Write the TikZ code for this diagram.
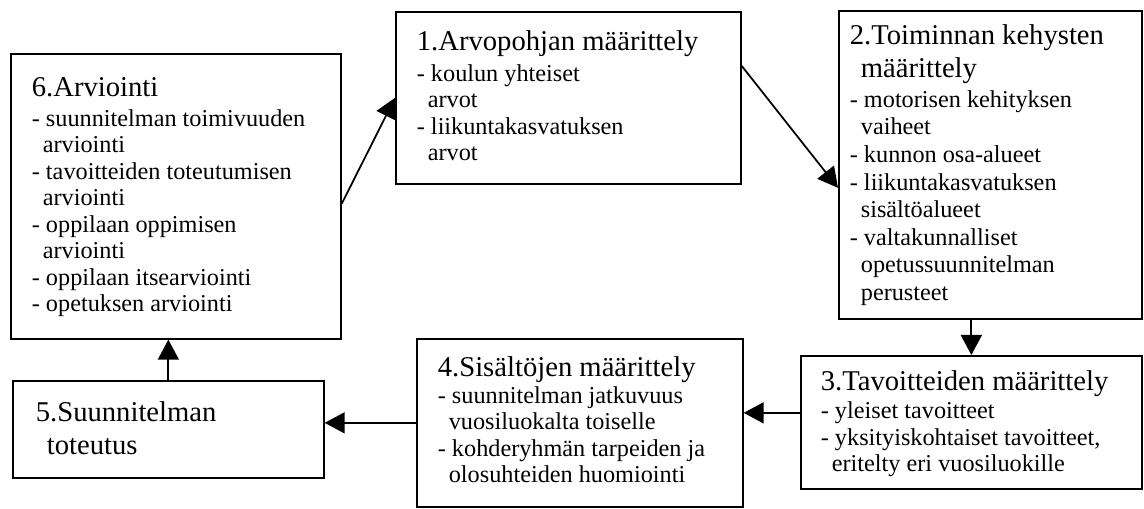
\documentclass[tikz,border=0pt]{standalone}
\usepackage{fontspec}
\setmainfont{Liberation Serif}
\usetikzlibrary{arrows.meta}

\newcommand{\otsikko}[2][1pt]{{\fontsize{16.3}{18.7}\selectfont #2\par}\vspace{#1}}
\newcommand{\sis}{\hspace*{2.2mm}}

\begin{document}
\begin{tikzpicture}[x=0.02cm, y=-0.02cm,
    vaihe/.style={draw, line width=1pt, anchor=north west, inner xsep=0.42cm, inner ysep=0.1cm,
        font=\fontsize{13.8}{15.1}\selectfont},
    nuoli/.style={line width=1pt, -{Triangle[length=0.4cm, width=0.42cm]}}]
\useasboundingbox (0,0) rectangle (1144,509);

% 6. Arviointi
\node[vaihe] (arviointi) at (10,53) {
    \begin{minipage}[c][5.5cm][t]{5.76cm}
        \vspace*{0.37cm}
        \otsikko[1.9pt]{6.Arviointi}
        - suunnitelman toimivuuden\\
        \sis arviointi\\
        - tavoitteiden toteutumisen\\
        \sis arviointi\\
        - oppilaan oppimisen\\
        \sis arviointi\\
        - oppilaan itsearviointi\\
        - opetuksen arviointi
    \end{minipage}
};

% 1. Arvopohja
\node[vaihe] (arvopohja) at (395,11) {
    \begin{minipage}[c][3.24cm][t]{6.06cm}
        \vspace*{0.28cm}
        \otsikko[2.2pt]{1.Arvopohjan määrittely}
        - koulun yhteiset\\
        \sis arvot\\
        - liikuntakasvatuksen\\
        \sis arvot
    \end{minipage}
};

% 2. Toiminnan kehykset
\node[vaihe, inner xsep=0.22cm, font=\fontsize{13.8}{15.7}\selectfont] (kehykset) at (838,10) {
    \begin{minipage}[c][5.96cm][t]{5.62cm}
        \vspace*{0.18cm}
        \otsikko[1.2pt]{2.Toiminnan kehysten\\\sis määrittely}
        - motorisen kehityksen\\
        \sis vaiheet\\
        - kunnon osa-alueet\\
        - liikuntakasvatuksen\\
        \sis sisältöalueet\\
        - valtakunnalliset\\
        \sis opetussuunnitelman\\
        \sis perusteet
    \end{minipage}
};

% 3. Tavoitteet
\node[vaihe, inner xsep=0.4cm] (tavoitteet) at (800,355) {
    \begin{minipage}[c][2.46cm][t]{6.02cm}
        \vspace*{0.2cm}
        \otsikko[0.8pt]{3.Tavoitteiden määrittely}
        - yleiset tavoitteet\\
        - yksityiskohtaiset tavoitteet,\\
        \sis eritelty eri vuosiluokille
    \end{minipage}
};

% 4. Sisällöt
\node[vaihe] (sisallot) at (416,338) {
    \begin{minipage}[c][3.16cm][t]{5.68cm}
        \vspace*{0.26cm}
        \otsikko[0pt]{4.Sisältöjen määrittely}
        - suunnitelman jatkuvuus\\
        \sis vuosiluokalta toiselle\\
        - kohderyhmän tarpeiden ja\\
        \sis olosuhteiden huomiointi
    \end{minipage}
};

% 5. Toteutus
\node[vaihe, inner xsep=0.46cm] (toteutus) at (12,380) {
    \begin{minipage}[c][1.74cm][t]{5.3cm}
        \vspace*{0.32cm}
        \otsikko[0pt]{5.Suunnitelman\\\sis toteutus}
    \end{minipage}
};

% Kierto
\draw[nuoli] ([yshift=-0.15cm]arviointi.east) -- (arvopohja.west);
\draw[nuoli] ([yshift=0.64cm]arvopohja.east) -- ([yshift=-0.46cm]kehykset.west);
\draw[nuoli] (tavoitteet.north |- kehykset.south) -- (tavoitteet.north);
\draw[nuoli] ([yshift=0.19cm]tavoitteet.west) -- ([yshift=0.19cm]tavoitteet.west -| sisallot.east);
\draw[nuoli] (sisallot.west) -- (sisallot.west -| toteutus.east);
\draw[nuoli] (toteutus.north) -- (toteutus.north |- arviointi.south);

\end{tikzpicture}
\end{document}
